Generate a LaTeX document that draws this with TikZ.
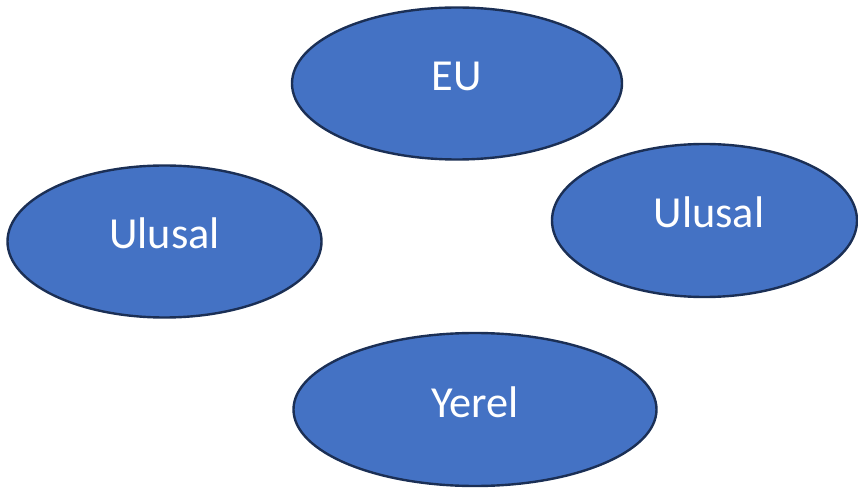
\documentclass[tikz,border=0pt]{standalone}
\usepackage{fontspec}
\setmainfont{Carlito}
\usetikzlibrary{shapes.geometric}
\definecolor{ovalfill}{HTML}{4472C4}
\definecolor{ovaledge}{HTML}{1B2F55}
\tikzset{
  oval/.style={ellipse, fill=ovalfill, draw=ovaledge, line width=2.4bp,
    inner sep=0pt, text=white, font=\fontsize{44.5}{50}\selectfont,
    text height=28bp, text depth=13bp}
}
\begin{document}
\begin{tikzpicture}[x=1bp,y=-1bp]
\useasboundingbox (0,0) rectangle (858,489);
\node[oval, minimum width=330bp, minimum height=152bp] (eu) at (457,83.5) {EU};
\node[oval, minimum width=314bp, minimum height=152bp] (ulusalL) at (164.5,241.5) {Ulusal};
\node[oval, minimum width=305bp, minimum height=153bp] (ulusalR) at (704.5,220.5) {\hspace{9bp}Ulusal};
\node[oval, minimum width=363bp, minimum height=153bp] (yerel) at (475,409.5) {Yerel};
\end{tikzpicture}
\end{document}
